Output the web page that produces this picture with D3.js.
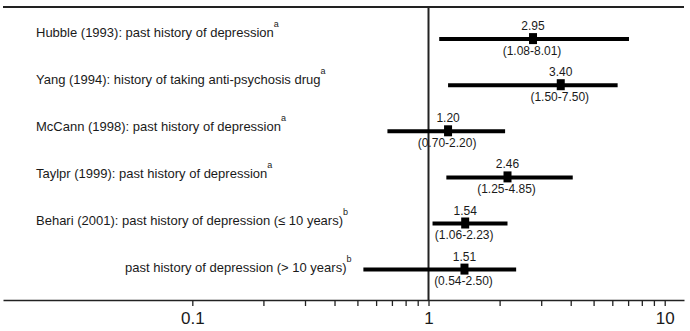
<!DOCTYPE html>
<html><head><meta charset="utf-8">
<script src="https://cdn.jsdelivr.net/npm/d3@7"></script>
<style>
body{margin:0;background:#fff}
svg{display:block}
text{font-family:"Liberation Sans",Arial,Helvetica,sans-serif;fill:#1a1a1a}
</style>
</head><body>
<svg id="c" width="690" height="331"></svg>
<script>
// ---- data ----
const studies = [
  "Hubble (1993): past history of depression",
  "Yang (1994): history of taking anti-psychosis drug",
  "McCann (1998): past history of depression",
  "Taylpr (1999): past history of depression",
  "Behari (2001): past history of depression (\u2264 10 years)",
  "past history of depression (> 10 years)"
];
const notes = ["a", "a", "a", "a", "b", "b"];
const subRow = [false, false, false, false, false, true];
const orText = ["2.95", "3.40", "1.20", "2.46", "1.54", "1.51"];
const ciText = ["(1.08-8.01)", "(1.50-7.50)", "(0.70-2.20)", "(1.25-4.85)", "(1.06-2.23)", "(0.54-2.50)"];
// positions as drawn in the picture
const orPlot = [2.77, 3.63, 1.21, 2.16, 1.43, 1.42];
const loPlot = [1.11, 1.21, 0.67, 1.19, 1.04, 0.53];
const hiPlot = [7.06, 6.32, 2.11, 4.08, 2.16, 2.35];
const majorTicks = [0.1, 1, 10];
const minorTicks = [0.2, 0.3, 0.4, 0.5, 0.6, 0.7, 0.8, 0.9, 2, 3, 4, 5, 6, 7, 8, 9];

// ---- layout ----
const svg = d3.select("#c");
const plotL = 3, plotR = 684, plotT = 7, axisY = 300;
const x = d3.scaleLog()
  .domain([Math.pow(10, -1.8015), Math.pow(10, 1.0817)])
  .range([plotL, plotR]);
const idx = d3.range(studies.length);
const yLine = d3.scaleLinear().domain([0, 5]).range([39.1, 39.1 + 46.1 * 5]);
const yLab = d3.scaleLinear().domain([0, 5]).range([36.7, 36.7 + 47 * 5]);

// top frame line
svg.append("line").attr("x1", plotL).attr("x2", plotR).attr("y1", plotT).attr("y2", plotT)
  .attr("stroke", "#222").attr("stroke-width", 2);
// reference line at 1
svg.append("line").attr("x1", x(1)).attr("x2", x(1)).attr("y1", plotT).attr("y2", axisY)
  .attr("stroke", "#222").attr("stroke-width", 2);

// axis
const allTicks = majorTicks.concat(minorTicks).sort((a, b) => a - b);
const ax = svg.append("g").attr("transform", `translate(0,${axisY})`)
  .call(d3.axisBottom(x).tickValues(allTicks).tickSize(6).tickSizeOuter(0).tickPadding(6)
    .tickFormat(d => majorTicks.includes(d) ? String(d) : ""));
ax.select(".domain").attr("stroke", "#222").attr("stroke-width", 1.6);
ax.selectAll(".tick line").attr("stroke", "#222").attr("stroke-width", 1.3);
ax.selectAll(".tick text").attr("font-size", 17).attr("fill", "#1a1a1a")
  .attr("font-family", "'Liberation Sans',Arial,sans-serif");

// study labels
const lab = svg.append("g").selectAll("text").data(idx).join("text")
  .attr("x", i => subRow[i] ? 125 : 36)
  .attr("y", i => yLab(i))
  .attr("font-size", 13);
lab.append("tspan").text(i => studies[i]);
lab.append("tspan").attr("font-size", 9).attr("dy", -10).text(i => notes[i]);

// CI lines
svg.append("g").selectAll("line").data(idx).join("line")
  .attr("x1", i => x(loPlot[i])).attr("x2", i => x(hiPlot[i]))
  .attr("y1", i => yLine(i)).attr("y2", i => yLine(i))
  .attr("stroke", "#000").attr("stroke-width", 4);
// point boxes
svg.append("g").selectAll("rect").data(idx).join("rect")
  .attr("x", i => x(orPlot[i]) - 4).attr("y", i => yLine(i) - 6)
  .attr("width", 8).attr("height", 11).attr("fill", "#000");
// value labels
svg.append("g").selectAll("text").data(idx).join("text")
  .attr("x", i => x(orPlot[i])).attr("y", i => yLine(i) - 9)
  .attr("text-anchor", "middle").attr("font-size", 12).text(i => orText[i]);
svg.append("g").selectAll("text").data(idx).join("text")
  .attr("x", i => x(orPlot[i]) - 1).attr("y", i => yLine(i) + 15.5)
  .attr("text-anchor", "middle").attr("font-size", 12).text(i => ciText[i]);
</script>
</body></html>
